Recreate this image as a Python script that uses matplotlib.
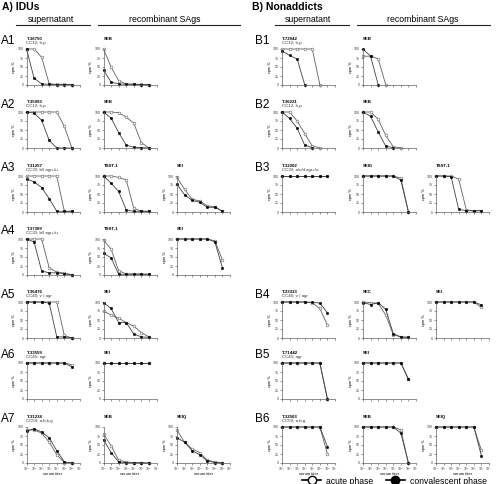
import matplotlib.pyplot as plt
from matplotlib.lines import Line2D

plt.rcParams['font.family'] = ['Liberation Sans', 'DejaVu Sans']

# serum titer (log10) of the dilution points, and the axis ticks
titer_exp = [0, 1, 2, 3, 4, 5, 6]
tick_exp = [0, 1, 2, 3, 4, 5, 6, 7]
tick_labels = ['10$^0$', '10$^1$', '10$^2$', '10$^3$', '10$^4$', '10$^5$', '10$^6$', '10$^7$']
cpm_ticks = [0, 25, 50, 75, 100]

# (acute phase, convalescent phase) cpm % per panel
A1_sup = ([100, 100, 77, 3, 2, 2, 1], [100, 19, 3, 2, 1, 1, 1])
A1_seb = ([100, 50, 12, 3, 2, 2, 1], [42, 8, 3, 2, 2, 1, 1])
A2_sup = ([100, 100, 100, 100, 100, 60, 0], [100, 97, 77, 21, 0, 0, 0])
A2_seb = ([100, 100, 98, 86, 69, 15, 0], [100, 83, 43, 8, 2, 1, 0])
A3_sup = ([100, 100, 100, 100, 100, 2, 2], [92, 84, 68, 37, 2, 2, 2])
A3_tsst = ([100, 100, 96, 89, 10, 2, 2], [100, 80, 57, 6, 2, 2, 2])
A3_sei = ([96, 63, 35, 31, 17, 15, 2], [77, 48, 32, 27, 13, 13, 2])
A4_sup = ([100, 100, 100, 20, 8, 5, 1], [100, 92, 11, 6, 6, 4, 0])
A4_tsst = ([97, 72, 12, 3, 3, 3, 2], [60, 48, 2, 2, 2, 2, 2])
A4_sei = ([100, 100, 100, 100, 100, 95, 42], [100, 100, 100, 100, 100, 92, 20])
A5_sup = ([100, 100, 100, 100, 100, 7, 0], [100, 100, 100, 97, 3, 3, 0])
A5_sei = ([75, 64, 55, 43, 33, 15, 3], [98, 82, 43, 43, 11, 3, 2])
A6_sup = ([100, 100, 100, 100, 100, 100, 95], [100, 100, 100, 100, 100, 100, 89])
A6_sei = ([100, 100, 100, 100, 100, 100, 100], [100, 100, 100, 100, 100, 100, 100])
A7_sup = ([91, 92, 83, 58, 23, 1, 1], [89, 95, 86, 70, 34, 3, 0])
A7_seb = ([81, 48, 8, 3, 1, 1, 0], [65, 29, 3, 1, 0, 0, 0])
A7_seiq = ([91, 58, 39, 29, 8, 3, 1], [70, 58, 34, 23, 6, 1, 0])

B1_sup = ([100, 100, 100, 100, 100, 1], [95, 82, 72, 1])
B1_seb = ([80, 80, 73, 1], [100, 80, 1])
B2_sup = ([100, 100, 75, 40, 5, 1], [100, 82, 55, 8, 1])
B2_seb = ([100, 100, 80, 35, 3, 1], [100, 88, 45, 5, 1])
B3_sup = ([100, 100, 100, 100, 100, 100, 100], [100, 100, 100, 100, 100, 100, 100])
B3_seig = ([100, 100, 100, 100, 100, 94, 0], [100, 100, 100, 100, 100, 88, 0])
B3_tsst = ([100, 100, 100, 91, 6, 3, 4], [100, 100, 98, 7, 4, 3, 4])
B4_sup = ([100, 100, 100, 100, 98, 82, 36], [100, 100, 100, 100, 99, 97, 70])
B4_sec = ([100, 98, 96, 64, 9, 3, 2], [98, 93, 98, 80, 12, 3, 2])
B4_sei = ([100, 100, 100, 100, 100, 100, 85], [100, 100, 100, 100, 100, 100, 92])
B5_sup = ([100, 100, 100, 100, 100, 100, 0], [100, 100, 100, 100, 100, 100, 0])
B5_sei = ([100, 100, 100, 100, 100, 100, 55], [100, 100, 100, 100, 100, 100, 55])
B6_sup = ([100, 100, 100, 100, 100, 100, 25], [100, 100, 100, 100, 100, 100, 45])
B6_seb = ([100, 100, 100, 100, 100, 92, 0], [100, 100, 100, 100, 100, 83, 0])
B6_seiq = ([100, 100, 100, 100, 100, 100, 35], [100, 100, 100, 100, 100, 100, 20])

# row label, strain, clonal complex / genes, [(column, antigen, data)]
rows_A = [
    ('A1', 'T-36750', 'CC12; h,p', [(0, '', A1_sup), (1, 'SEB', A1_seb)]),
    ('A2', 'T-35093', 'CC12; h,p', [(0, '', A2_sup), (1, 'SEB', A2_seb)]),
    ('A3', 'T-31257', 'CC30; b/l agr+/u', [(0, '', A3_sup), (1, 'TSST-1', A3_tsst), (2, 'SEI', A3_sei)]),
    ('A4', 'T-37389', 'CC30; b/l agr+/u', [(0, '', A4_sup), (1, 'TSST-1', A4_tsst), (2, 'SEI', A4_sei)]),
    ('A5', 'T-36476', 'CC45; v / agr', [(0, '', A5_sup), (1, 'SEI', A5_sei)]),
    ('A6', 'T-33559', 'CC45; agr', [(0, '', A6_sup), (1, 'SEI', A6_sei)]),
    ('A7', 'T-31238', 'CC59; a,b,k,g', [(0, '', A7_sup), (1, 'SEB', A7_seb), (2, 'SEIQ', A7_seiq)]),
]
rows_B = [
    ('B1', 'T-72942', 'CC12; h,p', [(0, '', B1_sup), (1, 'SEB', B1_seb)]),
    ('B2', 'T-36221', 'CC12; h,p', [(0, '', B2_sup), (1, 'SEB', B2_seb)]),
    ('B3', 'T-32202', 'CC30; a/c/d agr+/u', [(0, '', B3_sup), (1, 'SEIG', B3_seig), (2, 'TSST-1', B3_tsst)]),
    None,
    ('B4', 'T-33333', 'CC45; v / agr', [(0, '', B4_sup), (1, 'SEC', B4_sec), (2, 'SEI', B4_sei)]),
    ('B5', 'T-71442', 'CC45; agr', [(0, '', B5_sup), (1, 'SEI', B5_sei)]),
    ('B6', 'T-32503', 'CC59; a,b,g', [(0, '', B6_sup), (1, 'SEB', B6_seb), (2, 'SEIQ', B6_seiq)]),
]

W, H = 496, 484
fig = plt.figure(figsize=(W / 100, H / 100), dpi=100)

row_top = [49, 112, 176, 239, 302, 363, 427]
ax_h = 36
ax_w = 53
col_A = [26.5, 103.5, 177]
col_B = [282, 363, 436]
grey = '#606060'


def px(x, y):
    return x / W, 1 - y / H


def panel(x, top, data, bottom):
    ax = fig.add_axes([x / W, 1 - (top + ax_h) / H, ax_w / W, ax_h / H])
    acute, conv = data
    ax.plot(titer_exp[:len(acute)], acute, color=grey, lw=0.6, marker='o', ms=2,
            mfc='white', mec=grey, mew=0.4, clip_on=False)
    ax.plot(titer_exp[:len(conv)], conv, color='#404040', lw=0.6, marker='o', ms=1.8,
            mfc='black', mec='black', mew=0.3, clip_on=False)
    ax.set_xlim(0, 7)
    ax.set_ylim(0, 100)
    for s in ['top', 'right']:
        ax.spines[s].set_visible(False)
    for s in ['left', 'bottom']:
        ax.spines[s].set_linewidth(0.5)
        ax.spines[s].set_color(grey)
    ax.set_xticks(tick_exp)
    ax.set_yticks(cpm_ticks)
    ax.tick_params(length=1.2, width=0.4, pad=1, labelsize=2.6, colors='#444444')
    ax.tick_params(axis='x', pad=0.6, labelsize=2.4)
    if bottom:
        ax.set_xticklabels(tick_labels)
        ax.set_xlabel('serum titer', fontsize=2.9)
        ax.xaxis.set_label_coords(0.5, -0.245)
    else:
        ax.set_xticklabels([])
    ax.set_ylabel('cpm %', fontsize=2.8, labelpad=1)
    return ax


def section(rows, cols, xlab):
    for r, row in enumerate(rows):
        if row is None:
            continue
        label, strain, cc, items = row
        top = row_top[r]
        fig.text(*px(xlab, top - 7.5), label, fontsize=8.5, va='center', ha='left')
        for c, ag, data in items:
            x = cols[c]
            panel(x, top, data, r == len(rows) - 1)
            if c == 0:
                fig.text(*px(x, top - 10), strain, fontsize=3.2, fontweight='bold', va='center')
                fig.text(*px(x, top - 6), cc, fontsize=3.2, va='center', color='#333333')
            else:
                fig.text(*px(x, top - 10), ag, fontsize=3.2, fontweight='bold', va='center')


section(rows_A, col_A, 1)
section(rows_B, col_B, 255)

# headers
fig.text(*px(2, 6.5), 'A) IDUs', fontsize=7.5, fontweight='bold', va='center')
fig.text(*px(252, 6.5), 'B) Nonaddicts', fontsize=7.5, fontweight='bold', va='center')
for xc, x0, x1, txt in [(51, 16, 90, 'supernatant'), (165, 98, 240, 'recombinant SAgs'),
                        (308, 275, 349, 'supernatant'), (423, 357, 490, 'recombinant SAgs')]:
    fig.text(*px(xc, 19), txt, fontsize=6.3, ha='center', va='center')
    fig.add_artist(Line2D([x0 / W, x1 / W], [1 - 24.5 / H] * 2, color='#222222', lw=0.8))

handles = [Line2D([], [], color='black', lw=1.2, marker='o', ms=6, mfc='white', mec='black'),
           Line2D([], [], color='black', lw=1.2, marker='o', ms=6, mfc='black', mec='black')]
fig.legend(handles, ['acute phase', 'convalescent phase'], loc='center left',
           bbox_to_anchor=(298 / W, 1 - 481 / H), ncol=2, frameon=False, fontsize=6.2,
           handlelength=2.2, columnspacing=1.4, handletextpad=0.6, borderpad=0)

fig.savefig('out.png', dpi=100)
